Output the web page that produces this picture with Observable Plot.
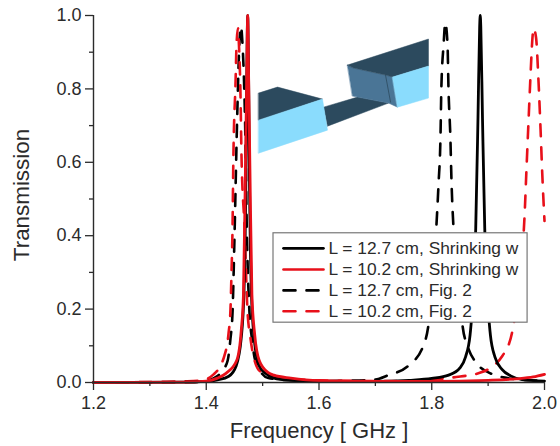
<!DOCTYPE html>
<html><head><meta charset="utf-8">
<style>html,body{margin:0;padding:0;background:#fff}svg{display:block}</style>
<script src="https://cdn.jsdelivr.net/npm/d3@7"></script>
<script src="https://cdn.jsdelivr.net/npm/@observablehq/plot@0.6"></script>
</head><body><div id="chart"></div>
<script>
const xMajor=[1.2,1.4,1.6,1.8,2.0], xMinor=[1.3,1.5,1.7,1.9];
const yMajor=[0,0.2,0.4,0.6,0.8,1.0], yMinor=[0.1,0.3,0.5,0.7,0.9];
const labels=["L = 12.7 cm, Shrinking w","L = 10.2 cm, Shrinking w","L = 12.7 cm, Fig. 2","L = 10.2 cm, Fig. 2"];

const solidBlackX=[1.2,1.36,1.40,1.42,1.44,1.453,1.462,1.467,1.4705,1.472,1.4735,1.475,1.4765,1.480,1.485,1.494,1.505,1.52,1.55,1.6,1.7,1.76,1.80,1.83,1.85,1.86,1.868,1.874,1.878,1.882,1.885,1.886,1.887,1.890,1.894,1.898,1.904,1.912,1.925,1.94,1.96,2.0];
const solidBlackY=[0,0.001,0.003,0.007,0.017,0.045,0.12,0.25,0.58,0.85,1.0,0.85,0.58,0.25,0.12,0.045,0.025,0.012,0.006,0.003,0.003,0.006,0.011,0.02,0.04,0.07,0.13,0.25,0.42,0.72,0.97,1.0,0.97,0.72,0.42,0.25,0.13,0.07,0.035,0.018,0.008,0.004];
const solidRedX=[1.2,1.36,1.40,1.42,1.435,1.454,1.462,1.466,1.4695,1.472,1.4735,1.475,1.4775,1.481,1.486,1.494,1.51,1.52,1.55,1.6,1.7,1.8,1.9,1.95,1.98,2.0];
const solidRedY=[0,0.001,0.004,0.012,0.025,0.06,0.14,0.24,0.58,0.85,1.0,0.85,0.58,0.24,0.13,0.06,0.027,0.02,0.012,0.005,0.003,0.003,0.006,0.01,0.015,0.022];
const dashBlackX=[1.2,1.38,1.40,1.413,1.43,1.438,1.443,1.4466,1.450,1.4545,1.459,1.4616,1.464,1.469,1.4723,1.4767,1.481,1.487,1.51,1.55,1.6,1.65,1.7,1.7215,1.7587,1.785,1.794,1.803,1.808,1.812,1.8155,1.817,1.821,1.824,1.828,1.8297,1.833,1.835,1.8386,1.8475,1.8546,1.8634,1.881,1.904,1.927,1.975,2.0];
const dashBlackY=[0,0.001,0.004,0.011,0.035,0.06,0.12,0.19,0.39,0.70,0.93,0.97,0.93,0.70,0.39,0.19,0.12,0.06,0.012,0.006,0.004,0.005,0.008,0.019,0.046,0.10,0.155,0.30,0.42,0.54,0.67,0.80,0.92,0.98,0.92,0.80,0.67,0.55,0.42,0.28,0.155,0.10,0.05,0.025,0.014,0.006,0.005];
const dashRedX=[1.2,1.33,1.36,1.39,1.413,1.4324,1.4395,1.443,1.4448,1.4466,1.448,1.452,1.4537,1.4563,1.458,1.4608,1.4625,1.468,1.473,1.4785,1.484,1.496,1.532,1.6,1.7,1.75,1.8386,1.8865,1.9255,1.943,1.957,1.9645,1.968,1.9716,1.975,1.9787,1.9805,1.985,1.9894,1.993,1.996,2.0];
const dashRedY=[0,0.002,0.003,0.005,0.022,0.074,0.133,0.2,0.30,0.42,0.6,0.82,0.92,0.965,0.92,0.78,0.62,0.42,0.2,0.12,0.07,0.03,0.012,0.006,0.004,0.004,0.014,0.027,0.073,0.14,0.30,0.45,0.58,0.71,0.83,0.94,0.965,0.94,0.82,0.69,0.57,0.44];

const blockTopLX=[1.4927,1.5264,1.6062,1.4927], blockTopLY=[0.7885,0.8049,0.7722,0.7149];
const blockFaceLX=[1.4927,1.6062,1.6151,1.4927], blockFaceLY=[0.7149,0.7722,0.6876,0.6248];
const bridgeX=[1.608,1.6683,1.7233,1.6151], bridgeY=[0.7503,0.7776,0.7613,0.6985];
const blockTopRX=[1.6505,1.7942,1.7942,1.7304,1.7180,1.6612], blockTopRY=[0.8649,0.9359,0.8622,0.8322,0.8377,0.8568];
const blockSideRX=[1.6505,1.6612,1.7180,1.7304,1.7392,1.7233,1.6683,1.6594], blockSideRY=[0.8649,0.8568,0.8377,0.8322,0.7503,0.7613,0.7776,0.7804];
const blockFaceRX=[1.7304,1.7942,1.7942,1.7392], blockFaceRY=[0.8322,0.8622,0.7749,0.7503];
const edgeRX=[1.7180,1.7269], edgeRY=[0.8377,0.7640];

const legendX1=1.5193, legendX2=1.970, legendY1=0.163, legendY2=0.4066;
const legendRows=[0.3656,0.308,0.251,0.194];
const legendLineX=[1.537,1.608], legendTextX=1.6169;

const colors=["#000000","#e8101a"], dash="12,11", ink="#2b2b2b";
const poly=(xs,ys,fill)=>Plot.line(d3.range(xs.length),{x:xs,y:ys,fill,stroke:fill,strokeWidth:0.5,curve:"linear-closed"});
const curve=(xs,ys,stroke,dashed)=>Plot.line(d3.range(xs.length),{x:xs,y:ys,stroke,strokeWidth:dashed?2.6:2.8,curve:"monotone-x",strokeDasharray:dashed?dash:null,strokeLinejoin:"round"});
const legendLine=(i,stroke,dashed)=>Plot.line(legendLineX,{x:legendLineX,y:legendLineX.map(()=>legendRows[i]),stroke,strokeWidth:2.6,strokeDasharray:dashed?dash:null});

const chart=Plot.plot({
  width:560,height:446,marginLeft:93,marginRight:16,marginTop:15,marginBottom:64,
  style:{fontFamily:"'Liberation Sans',Arial,sans-serif",color:ink,background:"#fff"},
  x:{domain:[1.2,2.0],axis:null},
  y:{domain:[0,1],axis:null},
  marks:[
    poly(bridgeX,bridgeY,"#2c4a5e"),
    poly(blockTopLX,blockTopLY,"#2c4a5e"),
    poly(blockFaceLX,blockFaceLY,"#8adcfd"),
    poly(blockSideRX,blockSideRY,"#4a7596"),
    poly(blockTopRX,blockTopRY,"#2c4a5e"),
    poly(blockFaceRX,blockFaceRY,"#8adcfd"),
    Plot.line(edgeRX,{x:edgeRX,y:edgeRY,stroke:"#2c4a5e",strokeWidth:0.8}),
    curve(dashBlackX,dashBlackY,colors[0],true),
    curve(dashRedX,dashRedY,colors[1],true),
    curve(solidBlackX,solidBlackY,colors[0],false),
    curve(solidRedX,solidRedY,colors[1],false),
    Plot.rect([0],{x1:legendX1,x2:legendX2,y1:legendY1,y2:legendY2,fill:"#fff",stroke:"#777",strokeWidth:1.2}),
    legendLine(0,colors[0],false),legendLine(1,colors[1],false),legendLine(2,colors[0],true),legendLine(3,colors[1],true),
    Plot.text(labels,{x:legendTextX,y:legendRows,text:labels,textAnchor:"start",fontSize:17.35,fill:ink}),
    Plot.ruleX([1.2],{stroke:ink,strokeWidth:1.4}),
    Plot.ruleY([0],{stroke:ink,strokeWidth:1.4}),
    Plot.axisX({ticks:xMajor,tickSize:8,tickPadding:6,tickFormat:d3.format(".1f"),fontSize:18,label:null,stroke:ink,strokeWidth:1.3,fill:ink}),
    Plot.axisX({ticks:xMinor,tickSize:4,tickFormat:()=>"",label:null,stroke:ink,strokeWidth:1.3}),
    Plot.axisY({ticks:yMajor,tickSize:8,tickPadding:4,tickFormat:d3.format(".1f"),fontSize:18,label:null,stroke:ink,strokeWidth:1.3,fill:ink}),
    Plot.axisY({ticks:yMinor,tickSize:4,tickFormat:()=>"",label:null,stroke:ink,strokeWidth:1.3}),
    Plot.text(["Frequency [ GHz ]"],{frameAnchor:"bottom",textAnchor:"middle",dy:55,fontSize:22,fill:ink}),
    Plot.text(["Transmission"],{frameAnchor:"left",textAnchor:"middle",dx:-72,dy:-4,rotate:-90,fontSize:22.4,fill:ink})
  ]
});
document.getElementById("chart").append(chart);
</script></body></html>
